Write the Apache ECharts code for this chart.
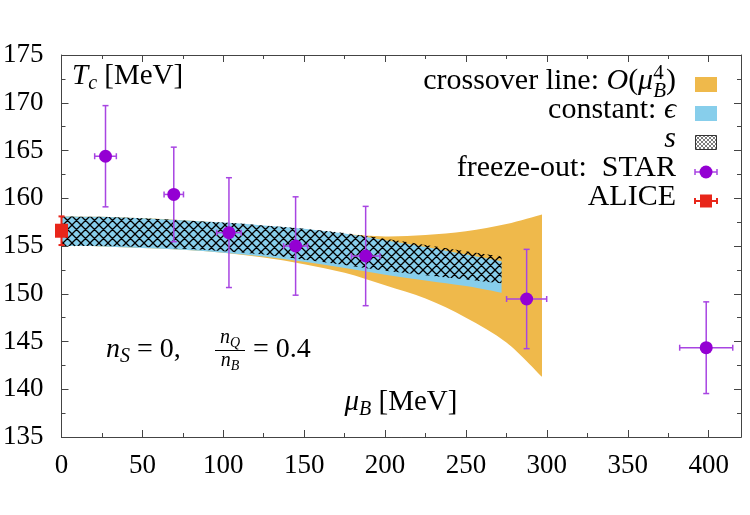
<!DOCTYPE html>
<html>
<head>
<meta charset="utf-8">
<script src="https://cdn.jsdelivr.net/npm/echarts@6/dist/echarts.min.js"></script>
<style>
  html, body { margin: 0; padding: 0; background: #fff; }
  #chart { width: 750px; height: 515px; }
</style>
</head>
<body>
<div id="chart"></div>
<script>
// crossover line O(muB^4) band
var crossMu   = [0, 25, 50, 75, 100, 125, 150, 175, 200, 225, 250, 275, 297]
var crossLow  = [155.0, 154.95, 154.8, 154.6, 154.3, 153.8, 153.1, 152.2, 150.9, 149.5, 147.5, 144.9, 141.3]
var crossHigh = [158.1, 158.05, 157.9, 157.7, 157.4, 157.0, 156.6, 156.25, 156.0, 156.15, 156.55, 157.3, 158.3]

// constant epsilon band
var epsMu   = [0, 25, 50, 75, 100, 125, 150, 175, 200, 225, 250, 272]
var epsLow  = [155.0, 154.95, 154.8, 154.6, 154.3, 153.9, 153.35, 152.7, 152.0, 151.4, 150.8, 150.1]
var epsHigh = [158.1, 158.05, 157.9, 157.7, 157.45, 157.15, 156.8, 156.3, 155.6, 154.9, 154.1, 153.4]

// constant s band (hatched)
var sMu   = [0, 25, 50, 75, 100, 125, 150, 175, 200, 225, 250, 272]
var sLow  = [155.0, 155.0, 154.9, 154.7, 154.45, 154.1, 153.55, 153.0, 152.4, 151.95, 151.5, 151.1]
var sHigh = [158.1, 158.05, 157.9, 157.7, 157.45, 157.15, 156.8, 156.35, 155.75, 155.1, 154.45, 153.9]

// freeze-out STAR
var starMu    = [27.2, 69.4, 103.5, 144.7, 188.0, 287.5, 398.5]
var starMuErr = [6.7, 6.0, 7.6, 7.4, 8.8, 12.4, 16.4]
var starT     = [164.4, 160.4, 156.4, 155.0, 153.95, 149.45, 144.35]
var starTErr  = [5.3, 4.95, 5.75, 5.15, 5.2, 5.2, 4.8]

// ALICE
var aliceMu = [0]
var aliceT = [156.6]
var aliceTErr = [1.5]

var xTicks = [0, 50, 100, 150, 200, 250, 300, 350, 400]
var yTicks = [135, 140, 145, 150, 155, 160, 165, 170, 175]

var ORANGE = '#efb94b'
var BLUE = '#87ceeb'
var PURPLE = '#9400d3'
var PURPLE_BAR = '#a845e2'
var RED = '#e8261a'
var SERIF = '"Liberation Serif", "DejaVu Serif", serif'

function hatchCanvas(p, lw, col) {
  var c = document.createElement('canvas')
  c.width = p
  c.height = p
  var g = c.getContext('2d')
  g.strokeStyle = col
  g.lineWidth = lw
  g.beginPath()
  for (var k = -1; k <= 1; k++) {
    g.moveTo(k * p, 0); g.lineTo(k * p + p, p)
    g.moveTo(k * p + p, 0); g.lineTo(k * p, p)
  }
  g.stroke()
  return c
}
var hatchBig = hatchCanvas(9, 1.3, '#000')
var hatchSmall = hatchCanvas(4, 0.7, '#444')

// smooth curve through screen points (catmull-rom as cubic bezier)
function curve(pts, d) {
  for (var i = 0; i < pts.length - 1; i++) {
    var p0 = pts[Math.max(i - 1, 0)], p1 = pts[i], p2 = pts[i + 1], p3 = pts[Math.min(i + 2, pts.length - 1)]
    var c1 = [p1[0] + (p2[0] - p0[0]) / 6, p1[1] + (p2[1] - p0[1]) / 6]
    var c2 = [p2[0] - (p3[0] - p1[0]) / 6, p2[1] - (p3[1] - p1[1]) / 6]
    d.push('C' + c1[0] + ' ' + c1[1] + ' ' + c2[0] + ' ' + c2[1] + ' ' + p2[0] + ' ' + p2[1])
  }
}

function band(name, mu, lo, hi, fill) {
  return {
    type: 'custom',
    name: name,
    silent: true,
    data: mu.map(function (m, i) { return [m, lo[i], hi[i]] }),
    encode: { x: 0, y: [1, 2] },
    renderItem: function (params, api) {
      if (params.dataIndex !== 0) return
      var up = mu.map(function (m, i) { return api.coord([m, hi[i]]) })
      var dn = mu.map(function (m, i) { return api.coord([m, lo[i]]) }).reverse()
      var d = ['M' + up[0][0] + ' ' + up[0][1]]
      curve(up, d)
      d.push('L' + dn[0][0] + ' ' + dn[0][1])
      curve(dn, d)
      d.push('Z')
      return { type: 'path', shape: { pathData: d.join(' ') }, style: { fill: fill, stroke: null } }
    },
  }
}

function errBars(name, mu, muErr, t, tErr, color, cap, lw) {
  return {
    type: 'custom',
    name: name,
    silent: true,
    clip: false,
    data: mu.map(function (m, i) { return [m, t[i], muErr[i], tErr[i]] }),
    encode: { x: 0, y: 1 },
    renderItem: function (params, api) {
      var x = api.value(0), y = api.value(1), ex = api.value(2), ey = api.value(3)
      var l = api.coord([x - ex, y]), r = api.coord([x + ex, y])
      var t = api.coord([x, y + ey]), b = api.coord([x, y - ey])
      var st = { stroke: color, lineWidth: lw }
      var ch = [
        { type: 'line', shape: { x1: t[0], y1: t[1], x2: b[0], y2: b[1] }, style: st },
        { type: 'line', shape: { x1: t[0] - cap, y1: t[1], x2: t[0] + cap, y2: t[1] }, style: st },
        { type: 'line', shape: { x1: b[0] - cap, y1: b[1], x2: b[0] + cap, y2: b[1] }, style: st },
      ]
      if (ex > 0) {
        ch.push(
          { type: 'line', shape: { x1: l[0], y1: l[1], x2: r[0], y2: r[1] }, style: st },
          { type: 'line', shape: { x1: l[0], y1: l[1] - cap, x2: l[0], y2: l[1] + cap }, style: st },
          { type: 'line', shape: { x1: r[0], y1: r[1] - cap, x2: r[0], y2: r[1] + cap }, style: st }
        )
      }
      return { type: 'group', children: ch }
    },
  }
}

// text pieces laid out side by side, baseline-aligned
var mctx = document.createElement('canvas').getContext('2d')
function fontOf(p) { return (p.i ? 'italic ' : '') + p.s + 'px ' + SERIF }
function mathText(pieces, x, base, anchor) {
  var total = 0
  pieces.forEach(function (p) {
    mctx.font = fontOf(p)
    p.w = p.adv === 0 ? 0 : mctx.measureText(p.t).width
    total += p.w
  })
  var cx = anchor === 'right' ? x - total : anchor === 'center' ? x - total / 2 : x
  var out = []
  pieces.forEach(function (p) {
    mctx.font = fontOf(p)
    mctx.textBaseline = 'alphabetic'
    var m = mctx.measureText('x')
    var off = (m.fontBoundingBoxAscent - m.fontBoundingBoxDescent) / 2
    out.push({
      type: 'text', x: cx, y: base + (p.dy || 0) - off, silent: true,
      style: { text: p.t, font: fontOf(p), fill: '#000', verticalAlign: 'middle', align: 'left' },
    })
    cx += p.w
  })
  return out
}

var LS = 30
var SS = 21
var graphics = []
  .concat(mathText([{ t: 'T', s: 29, i: 1 }, { t: 'c', s: 20, i: 1, dy: 5 }, { t: ' [MeV]', s: 29 }], 72, 86))
  .concat(mathText([{ t: 'μ', s: 29, i: 1 }, { t: 'B', s: 20, i: 1, dy: 5 }, { t: ' [MeV]', s: 29 }], 401, 412, 'center'))
  .concat(mathText([{ t: 'n', s: 28, i: 1 }, { t: 'S', s: 20, i: 1, dy: 5 }, { t: ' = 0,', s: 28 }], 106, 359))
  .concat(mathText([{ t: 'n', s: 20, i: 1 }, { t: 'Q', s: 14, i: 1, dy: 3 }], 230, 345, 'center'))
  .concat(mathText([{ t: 'n', s: 20, i: 1 }, { t: 'B', s: 14, i: 1, dy: 3 }], 230, 368, 'center'))
  .concat(mathText([{ t: '= 0.4', s: 28 }], 253, 359))
  .concat(mathText([{ t: 'crossover line: ', s: LS }, { t: 'O', s: LS, i: 1 }, { t: '(', s: LS }, { t: 'μ', s: LS, i: 1 },
    { t: '4', s: SS, dy: -12, adv: 0 }, { t: 'B', s: SS, i: 1, dy: 6 }, { t: ')', s: LS }], 676, 92, 'right'))
  .concat(mathText([{ t: 'constant: ', s: LS }, { t: 'ϵ', s: LS, i: 1 }], 676, 121, 'right'))
  .concat(mathText([{ t: 's', s: LS, i: 1 }], 676, 150, 'right'))
  .concat(mathText([{ t: 'freeze-out:  STAR', s: LS }], 676, 179, 'right'))
  .concat(mathText([{ t: 'ALICE', s: LS }], 676, 208, 'right'))

graphics.push(
  { type: 'line', silent: true, shape: { x1: 215, y1: 350.5, x2: 245, y2: 350.5 }, style: { stroke: '#000', lineWidth: 1 } },
  { type: 'rect', silent: true, shape: { x: 695, y: 77, width: 22, height: 15 }, style: { fill: ORANGE } },
  { type: 'rect', silent: true, shape: { x: 695, y: 106, width: 22, height: 15 }, style: { fill: BLUE } },
  { type: 'rect', silent: true, shape: { x: 695.5, y: 135.5, width: 21, height: 14 }, style: { fill: { image: hatchSmall, repeat: 'repeat' }, stroke: '#333', lineWidth: 1 } },
  { type: 'line', silent: true, shape: { x1: 695, y1: 172, x2: 717, y2: 172 }, style: { stroke: PURPLE_BAR, lineWidth: 1.5 } },
  { type: 'line', silent: true, shape: { x1: 695, y1: 169, x2: 695, y2: 175 }, style: { stroke: PURPLE_BAR, lineWidth: 1.5 } },
  { type: 'line', silent: true, shape: { x1: 717, y1: 169, x2: 717, y2: 175 }, style: { stroke: PURPLE_BAR, lineWidth: 1.5 } },
  { type: 'circle', silent: true, shape: { cx: 706, cy: 172, r: 6.5 }, style: { fill: PURPLE } },
  { type: 'line', silent: true, shape: { x1: 695, y1: 201, x2: 717, y2: 201 }, style: { stroke: RED, lineWidth: 2 } },
  { type: 'line', silent: true, shape: { x1: 695, y1: 198, x2: 695, y2: 204 }, style: { stroke: RED, lineWidth: 2 } },
  { type: 'line', silent: true, shape: { x1: 717, y1: 198, x2: 717, y2: 204 }, style: { stroke: RED, lineWidth: 2 } },
  { type: 'rect', silent: true, shape: { x: 700, y: 194.5, width: 12, height: 13 }, style: { fill: RED } }
)

var axisLineStyle = { lineStyle: { color: '#444', width: 1 } }
var labelStyle = { color: '#000', fontSize: 27, fontFamily: SERIF }

function xAxisDef(pos, interval, len, withLabel) {
  return {
    type: 'value', position: pos, min: 0, max: 420, interval: interval,
    axisLine: Object.assign({ show: true, onZero: false }, axisLineStyle),
    axisTick: { show: true, inside: true, length: len, lineStyle: { color: '#444' } },
    splitLine: { show: false },
    axisLabel: withLabel ? Object.assign({
      margin: 15,
      formatter: function (v) { return xTicks.indexOf(v) >= 0 ? String(v) : '' },
    }, labelStyle) : { show: false },
  }
}
function yAxisDef(pos, withLabel) {
  return {
    type: 'value', position: pos, min: 135, max: 175, interval: 5,
    axisLine: Object.assign({ show: true, onZero: false }, axisLineStyle),
    axisTick: { show: true, inside: true, length: 7, lineStyle: { color: '#444' } },
    minorTick: { show: true, splitNumber: 2, length: 4, lineStyle: { color: '#444' } },
    splitLine: { show: false },
    axisLabel: withLabel ? Object.assign({
      margin: 18,
      formatter: function (v) { return yTicks.indexOf(v) >= 0 ? String(v) : '' },
    }, labelStyle) : { show: false },
  }
}

var chart = echarts.init(document.getElementById('chart'))
var option = {
  animation: false,
  grid: { left: 61, right: 9, top: 55, bottom: 78, containLabel: false },
  xAxis: [
    xAxisDef('bottom', 50, 7, true),
    xAxisDef('bottom', 25, 4, false),
    xAxisDef('top', 50, 7, false),
    xAxisDef('top', 25, 4, false),
  ],
  yAxis: [yAxisDef('left', true), yAxisDef('right', false)],
  series: [
    band('crossover', crossMu, crossLow, crossHigh, ORANGE),
    band('epsilon', epsMu, epsLow, epsHigh, BLUE),
    band('s', sMu, sLow, sHigh, { image: hatchBig, repeat: 'repeat' }),
    errBars('STAR err', starMu, starMuErr, starT, starTErr, PURPLE_BAR, 3, 1.5),
    {
      type: 'scatter', name: 'freeze-out: STAR', clip: false, silent: true,
      symbol: 'circle', symbolSize: 13, itemStyle: { color: PURPLE, opacity: 1 },
      data: starMu.map(function (m, i) { return [m, starT[i]] }),
    },
    errBars('ALICE err', aliceMu, [0], aliceT, aliceTErr, RED, 3, 2),
    {
      type: 'scatter', name: 'ALICE', clip: false, silent: true,
      symbol: 'rect', symbolSize: [13, 14], itemStyle: { color: RED, opacity: 1 },
      data: aliceMu.map(function (m, i) { return [m, aliceT[i]] }),
    },
  ],
  graphic: graphics,
}
chart.setOption(option)
</script>
</body>
</html>
